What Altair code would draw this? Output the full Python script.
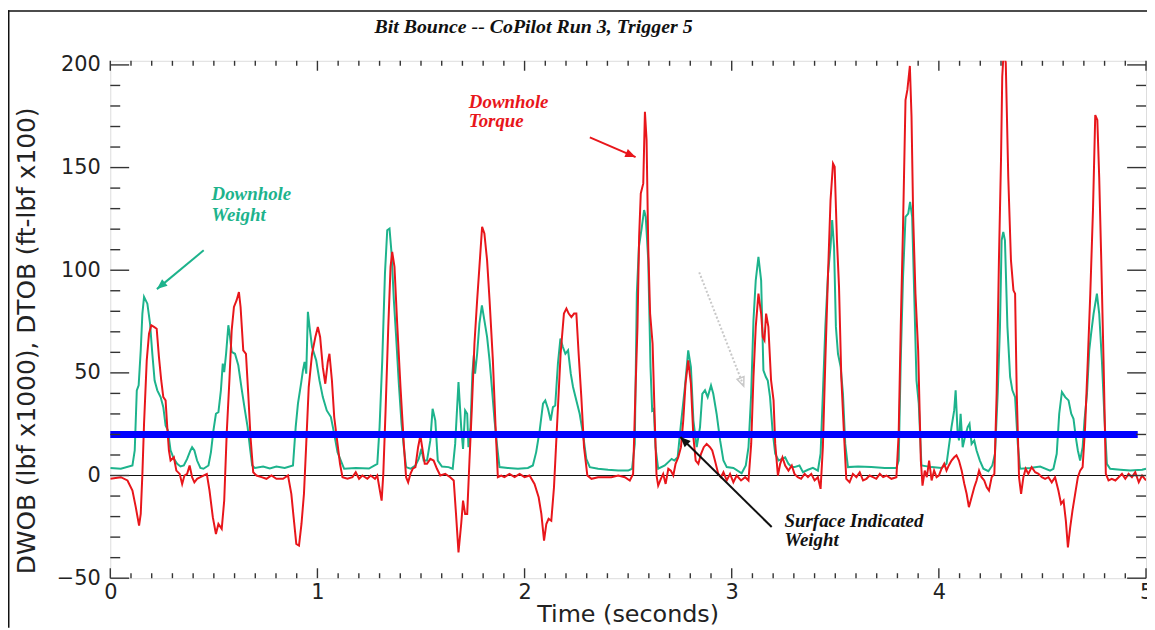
import math
import altair as alt
import pandas as pd

# ---------------- text ----------------
TITLE = "Bit Bounce -- CoPilot Run 3, Trigger 5"
Y_TITLE = "DWOB (lbf x1000), DTOB (ft-lbf x100)"
X_TITLE = "Time (seconds)"

X_LABELS = [0, 1, 2, 3, 4, 5]
Y_LABELS = [-50, 0, 50, 100, 150, 200]
X_MINOR = [round(i * 0.1, 1) for i in range(1, 50) if i % 10 != 0]
Y_MINOR = [v for v in range(-40, 201, 10) if v % 50 != 0]

X_DOMAIN = [0, 5]
Y_DOMAIN = [-50, 202]

# ---------------- series (time s, value) ----------------
WEIGHT = [
    (0, 3.7), (.051, 3.3), (.107, 4.9), (.118, 12.2), (.128, 41.5), (.137, 43.9), (.147, 61), (.155, 78.9),
    (.163, 87), (.179, 83.7), (.192, 74), (.203, 59.3), (.214, 46.3), (.227, 41.5), (.243, 38.2), (.256, 33.3),
    (.267, 24.4), (.278, 22), (.291, 12.2), (.307, 8.1), (.323, 5.7), (.339, 4.4), (.355, 4.9), (.371, 8.1),
    (.387, 12.2), (.395, 13.8), (.406, 12.2), (.419, 7.3), (.435, 3.7), (.450, 3.3), (.474, 4.9), (.486, 11.4),
    (.498, 22), (.510, 30.1), (.522, 30.9), (.534, 41.5), (.543, 54.5), (.550, 50.4), (.559, 59.3), (.570, 73.2),
    (.578, 67.5), (.586, 60.2), (.602, 59.3), (.618, 53.7), (.634, 42.3), (.650, 31.7), (.663, 23.6), (.674, 13.8),
    (.685, 4.9), (.698, 3.7), (.738, 4.4), (.770, 3.4), (.802, 4.4), (.842, 3.7), (.882, 4.9), (.895, 23.6),
    (.906, 35), (.922, 45.5), (.930, 51.2), (.938, 55.3), (.946, 49.6), (.954, 79.7), (.962, 72.4), (.974, 62.6),
    (.994, 56.1), (1.010, 46.3), (1.026, 38.2), (1.045, 31.7), (1.065, 28.5), (1.081, 20.3), (1.097, 11.4),
    (1.113, 7.3), (1.129, 3.3), (1.185, 3.7), (1.249, 3.4), (1.289, 5.7), (1.300, 23.6), (1.313, 56.1),
    (1.326, 98.4), (1.337, 119.5), (1.348, 120.3), (1.358, 108.1), (1.369, 85.4), (1.380, 67.5), (1.393, 44.7),
    (1.406, 25.2), (1.417, 13.8), (1.428, 4.1), (1.449, 3.3), (1.473, 4.9), (1.489, 8.1), (1.502, 13),
    (1.513, 7.3), (1.529, 7.3), (1.545, 17.1), (1.556, 32.5), (1.569, 26.8), (1.581, 7.3), (1.601, 4.4),
    (1.633, 4.1), (1.653, 3.3), (1.665, 15.4), (1.681, 45.5), (1.694, 23.6), (1.703, 13), (1.713, 31.7),
    (1.723, 30.1), (1.729, 13.8), (1.739, 23.6), (1.748, 49.6), (1.755, 58.5), (1.761, 49.6), (1.771, 59.3),
    (1.782, 74), (1.794, 82.9), (1.806, 75.6), (1.819, 67.5), (1.831, 56.1), (1.842, 43.1), (1.855, 26.8),
    (1.868, 13.8), (1.879, 4.1), (1.919, 3.7), (1.968, 3.3), (2.016, 3.7), (2.040, 4.9), (2.056, 11.4),
    (2.073, 22), (2.089, 35), (2.100, 36.6), (2.113, 32.5), (2.126, 26.8), (2.137, 33.3), (2.148, 34.1),
    (2.161, 54.5), (2.173, 66.7), (2.185, 62.6), (2.197, 59.3), (2.210, 61), (2.223, 49.6), (2.234, 43.1),
    (2.250, 36.6), (2.266, 30.1), (2.282, 20.3), (2.298, 8.1), (2.315, 4.1), (2.355, 3.3), (2.403, 2.8),
    (2.452, 2.4), (2.500, 2.4), (2.519, 3.3), (2.532, 15.4), (2.542, 88.6), (2.552, 111.4), (2.565, 120.3),
    (2.577, 129.3), (2.585, 126), (2.597, 104.9), (2.608, 52.8), (2.616, 31.7), (2.624, 32.5), (2.632, 13.8),
    (2.645, 3.3), (2.677, 4.9), (2.710, 8.1), (2.723, 7.3), (2.739, 8.9), (2.755, 25.2), (2.774, 43.1),
    (2.790, 61), (2.803, 52.8), (2.815, 26.8), (2.831, 13.8), (2.847, 23.6), (2.858, 39.8), (2.871, 41.5),
    (2.884, 38.2), (2.900, 43.9), (2.911, 39.8), (2.927, 30.1), (2.944, 17.1), (2.960, 7.3), (2.976, 4.1),
    (3.008, 3.7), (3.048, 1.1), (3.068, 4.9), (3.081, 13.8), (3.094, 39.8), (3.105, 75.6), (3.116, 95.1),
    (3.129, 106.5), (3.142, 95.1), (3.153, 51.2), (3.165, 48), (3.174, 46.3), (3.185, 38.2), (3.197, 22),
    (3.210, 10.6), (3.226, 7.3), (3.242, 8.1), (3.258, 8.9), (3.274, 5.7), (3.290, 4.1), (3.303, 4.1),
    (3.327, 4.9), (3.344, 1.6), (3.368, 2.8), (3.392, 3.7), (3.416, 2.4), (3.429, 10.6), (3.440, 39.8),
    (3.452, 72.4), (3.465, 98.4), (3.477, 111.4), (3.485, 124.4), (3.494, 111.4), (3.503, 72.4), (3.513, 59.3),
    (3.526, 52.8), (3.537, 39.8), (3.548, 15.4), (3.561, 4.1), (3.610, 4.4), (3.674, 4.1), (3.739, 3.7),
    (3.795, 3.7), (3.806, 7.3), (3.816, 56.1), (3.827, 96.7), (3.839, 126), (3.852, 127.6), (3.861, 133.3),
    (3.871, 126), (3.881, 88.6), (3.892, 46.3), (3.903, 35), (3.916, 4.9), (3.965, 4.1), (4.013, 3.7),
    (4.037, 5.7), (4.048, 13.8), (4.061, 23.6), (4.074, 31.7), (4.081, 41.5), (4.090, 22), (4.097, 17.1),
    (4.105, 30.1), (4.115, 13.8), (4.126, 18.7), (4.139, 23.6), (4.148, 25.2), (4.158, 15.4), (4.171, 17.1),
    (4.182, 12.2), (4.198, 7.3), (4.215, 3.3), (4.239, 2.1), (4.258, 4.9), (4.271, 10.6), (4.284, 39.8),
    (4.295, 72.4), (4.303, 114.6), (4.311, 118.7), (4.319, 114.6), (4.331, 72.4), (4.344, 48), (4.355, 41.5),
    (4.368, 38.2), (4.381, 15.4), (4.392, 3.3), (4.440, 3.7), (4.489, 4.4), (4.537, 2.4), (4.553, 3.3),
    (4.569, 10.6), (4.581, 30.1), (4.594, 40.7), (4.610, 38.2), (4.626, 36.6), (4.639, 30.1), (4.650, 27.6),
    (4.661, 18.7), (4.671, 12.2), (4.682, 7.3), (4.694, 13.8), (4.703, 26.8), (4.715, 39.8), (4.726, 61),
    (4.735, 69.1), (4.747, 78.9), (4.763, 88.6), (4.774, 78.9), (4.787, 56.1), (4.800, 26.8), (4.811, 5.7),
    (4.827, 3.3), (4.876, 2.8), (4.924, 2.4), (4.981, 2.8), (5.0, 3.3),
]

TORQUE = [
    (0, -1.6), (.051, -0.8), (.083, -2.4), (.107, -7.3), (.123, -15.4), (.139, -24.4), (.147, -18.7), (.155, 0.8),
    (.163, 25.2), (.176, 56.1), (.187, 69.1), (.198, 73.2), (.211, 72.4), (.224, 71.5), (.235, 57.7), (.246, 46.3),
    (.256, 38.2), (.267, 36.6), (.275, 23.6), (.283, 12.2), (.291, 7.3), (.307, 8.9), (.319, 2.4), (.335, 0.8),
    (.347, -4.1), (.358, 0), (.371, 0.8), (.383, 4.9), (.395, -0.8), (.406, -3.3), (.419, -1.6), (.435, -0.8),
    (.450, 0), (.466, 0.8), (.479, -7.3), (.495, -20.3), (.510, -28.5), (.522, -23.6), (.538, -26), (.550, -12.2),
    (.562, 20.3), (.575, 46.3), (.586, 70.7), (.597, 82.1), (.610, 85.4), (.621, 89.4), (.629, 82.1), (.642, 61),
    (.655, 59.3), (.666, 39.8), (.677, 18.7), (.690, 1.6), (.706, 0), (.730, -0.8), (.754, -1.6), (.778, 0),
    (.802, -1.6), (.834, -1.6), (.858, 0), (.874, -8.9), (.885, -20.3), (.898, -33.3), (.911, -34.1), (.923, -23.6),
    (.935, -8.9), (.946, 15.4), (.958, 43.1), (.974, 59.3), (.990, 67.5), (1.002, 72.4), (1.013, 67.5),
    (1.026, 52.8), (1.038, 44.7), (1.050, 55.3), (1.058, 59.3), (1.070, 46.3), (1.081, 28.5), (1.097, 15.4),
    (1.109, 5.7), (1.121, -0.8), (1.145, -1.6), (1.169, -0.8), (1.185, 1.6), (1.201, -1.6), (1.217, 0),
    (1.241, -1.6), (1.257, 0), (1.278, -1.6), (1.289, 0), (1.300, -6.5), (1.310, -12.2), (1.318, 0.8),
    (1.329, 31.7), (1.342, 72.4), (1.353, 101.6), (1.361, 108.9), (1.372, 101.6), (1.385, 74), (1.401, 43.1),
    (1.417, 15.4), (1.428, -0.8), (1.438, -3.3), (1.449, 0.8), (1.460, 3.3), (1.473, 4.1), (1.486, 13.8),
    (1.497, 19.5), (1.508, 12.2), (1.518, 5.7), (1.529, 5.7), (1.545, 8.1), (1.561, 7.3), (1.577, 3.3),
    (1.593, 0), (1.617, 0.8), (1.641, -0.8), (1.658, -2.4), (1.669, -18.7), (1.681, -37.4), (1.694, -23.6),
    (1.703, -12.2), (1.713, -18.7), (1.723, -18.7), (1.734, 7.3), (1.745, 31.7), (1.758, 64.2), (1.771, 85.4),
    (1.782, 101.6), (1.795, 121.1), (1.806, 117.9), (1.819, 104.9), (1.831, 85.4), (1.847, 56.1), (1.860, 23.6),
    (1.871, -0.8), (1.887, 0), (1.903, -0.8), (1.927, 0.8), (1.952, -0.8), (1.976, 0.8), (2.000, -0.8),
    (2.024, 0), (2.048, -4.1), (2.068, -10.6), (2.081, -18.7), (2.094, -31.7), (2.105, -23.6), (2.116, -21.1),
    (2.129, -22), (2.142, -5.7), (2.158, 26.8), (2.174, 59.3), (2.190, 78.9), (2.202, 81.3), (2.213, 78.9),
    (2.226, 77.2), (2.239, 78.9), (2.250, 78.9), (2.261, 59.3), (2.274, 38.2), (2.287, 13.8), (2.303, 0),
    (2.323, -1.6), (2.355, -0.8), (2.387, -0.8), (2.419, -0.8), (2.452, 0), (2.484, -0.8), (2.508, -2.4),
    (2.524, 0.8), (2.535, 39.8), (2.545, 72.4), (2.553, 116.3), (2.561, 137.4), (2.573, 142.3), (2.581, 177.2),
    (2.589, 163.4), (2.597, 111.4), (2.606, 78.9), (2.618, 64.2), (2.629, 25.2), (2.637, 0), (2.645, -4.9),
    (2.658, -1.6), (2.669, 0.8), (2.681, -4.1), (2.694, 3.3), (2.706, 2.4), (2.718, 0), (2.729, 5.7),
    (2.742, 8.9), (2.755, 13.8), (2.766, 26.8), (2.777, 44.7), (2.790, 56.1), (2.803, 44.7), (2.815, 18.7),
    (2.826, 7.3), (2.839, 5.7), (2.852, 10.6), (2.865, 13.8), (2.879, 15.4), (2.895, 13.8), (2.906, 12.2),
    (2.919, 7.3), (2.935, 0.8), (2.948, -0.8), (2.960, 1.6), (2.976, -2.4), (2.992, 0.8), (3.008, -3.3),
    (3.024, 0), (3.045, -2.4), (3.065, -0.8), (3.081, -2.4), (3.094, 15.4), (3.105, 48), (3.116, 72.4),
    (3.129, 88.6), (3.142, 78.9), (3.150, 67.5), (3.158, 65.9), (3.166, 78.9), (3.177, 72.4), (3.190, 46.3),
    (3.202, 36.6), (3.210, 15.4), (3.223, 0), (3.234, 5.7), (3.245, 8.9), (3.258, 4.9), (3.274, 2.4),
    (3.290, 4.9), (3.303, 0.8), (3.319, -0.8), (3.335, -1.6), (3.352, 0.8), (3.368, -0.8), (3.384, 0.8),
    (3.400, -2.4), (3.416, -0.8), (3.429, -6.5), (3.440, 13.8), (3.452, 56.1), (3.465, 98.4), (3.477, 134.1),
    (3.489, 152), (3.497, 150.4), (3.508, 114.6), (3.518, 91.9), (3.529, 48), (3.542, 20.3), (3.553, -1.6),
    (3.569, -3.3), (3.585, 0.8), (3.602, -0.8), (3.618, 1.6), (3.634, -2.4), (3.650, -1.6), (3.666, 0),
    (3.682, -0.8), (3.698, -1.6), (3.715, 0.8), (3.731, -0.8), (3.747, 0), (3.771, -1.6), (3.795, -0.8),
    (3.806, 20.3), (3.816, 72.4), (3.827, 121.1), (3.839, 182.9), (3.848, 187.8), (3.860, 199.5), (3.868, 174.8),
    (3.876, 126), (3.887, 88.6), (3.900, 61), (3.913, 7.3), (3.921, -4.9), (3.932, 2.4), (3.942, -0.8),
    (3.953, 7.3), (3.965, -2.4), (3.977, 2.4), (3.989, -0.8), (4.000, 0), (4.013, 3.3), (4.026, 5.7),
    (4.037, 2.4), (4.048, 4.9), (4.061, 7.3), (4.074, 8.9), (4.085, 9.8), (4.097, 7.3), (4.110, 2.4),
    (4.123, -4.1), (4.134, -8.9), (4.145, -15.4), (4.158, -10.6), (4.171, -5.7), (4.182, -2.4), (4.194, 2.4),
    (4.206, -0.8), (4.219, -2.4), (4.231, -5.7), (4.242, -7.3), (4.255, -0.8), (4.268, 0.8), (4.279, 39.8),
    (4.290, 104.9), (4.300, 153.7), (4.306, 194.3), (4.313, 207), (4.323, 201), (4.335, 145.5), (4.348, 104.9),
    (4.360, 90.2), (4.368, 88.6), (4.376, 39.8), (4.387, -0.8), (4.397, -8.9), (4.408, -0.8), (4.419, 3.3),
    (4.432, 0.8), (4.448, 4.1), (4.465, 1.6), (4.481, 0.8), (4.497, -0.8), (4.513, -1.6), (4.529, -0.8),
    (4.545, -3.3), (4.561, -0.8), (4.577, -7.3), (4.590, -13.8), (4.602, -12.2), (4.613, -22), (4.623, -35),
    (4.634, -25.2), (4.645, -17.1), (4.658, -8.9), (4.671, -0.8), (4.682, 2.4), (4.694, 4.1), (4.706, 23.6),
    (4.719, 56.1), (4.731, 88.6), (4.744, 129.3), (4.755, 175.6), (4.765, 173.2), (4.774, 145.5), (4.784, 104.9),
    (4.795, 56.1), (4.806, 0.8), (4.819, -2.4), (4.835, -1.6), (4.852, -2.4), (4.868, -0.8), (4.884, 0.8),
    (4.900, -1.6), (4.916, 0.8), (4.932, -0.8), (4.948, 1.6), (4.965, -3.3), (4.981, 0), (5.0, -2.4),
]

# surface indicated weight (constant)
SURFACE_START = [0.0]
SURFACE_END = [4.96]
SURFACE_LEVEL = [20]

# annotations: text, time, value, colour
NOTE_TEXT = ["Downhole", "Weight", "Downhole", "Torque", "Surface Indicated", "Weight"]
NOTE_T = [0.489, 0.489, 1.731, 1.731, 3.255, 3.255]
NOTE_V = [137.0, 127.0, 182.0, 172.5, -22.2, -31.4]
GREEN = "#1db38c"
RED = "#e8161b"
NOTE_C = [GREEN, GREEN, RED, RED, "#111111", "#111111"]

# arrows: tail (t0, v0) -> head (t1, v1)
ARROW_T0 = [0.451, 2.315, 3.193]
ARROW_V0 = [109.7, 164.7, -25.1]
ARROW_T1 = [0.225, 2.536, 2.752]
ARROW_V1 = [90.8, 155.1, 18.8]
ARROW_C = [GREEN, RED, "#111111"]
GREY_T0, GREY_V0, GREY_T1, GREY_V1 = [2.843], [99.0], [3.058], [43.5]

# ---------------- layout ----------------
W, H = 1043, 521
PX_T = W / (X_DOMAIN[1] - X_DOMAIN[0])
PX_V = H / (Y_DOMAIN[1] - Y_DOMAIN[0])


def head_angle(t0, v0, t1, v1):
    dx = (t1 - t0) * PX_T
    dy = -(v1 - v0) * PX_V
    return math.degrees(math.atan2(dx, -dy)) % 360


xs = alt.Scale(domain=X_DOMAIN, nice=False, zero=False)
ys = alt.Scale(domain=Y_DOMAIN, nice=False, zero=False)

axis_x = alt.Axis(values=X_LABELS, ticks=False, domain=False, grid=False, title=None,
                  labelFont="DejaVu Sans", labelFontSize=21, labelColor="#222", labelPadding=3,
                  format="d", labelFlush=False, labelOverlap=False)
axis_y = alt.Axis(values=Y_LABELS, ticks=False, domain=False, grid=False, title=None,
                  labelFont="DejaVu Sans", labelFontSize=21, labelColor="#222", labelPadding=10,
                  format="d", labelOverlap=False)

df_w = pd.DataFrame(WEIGHT, columns=["t", "v"])
df_r = pd.DataFrame(TORQUE, columns=["t", "v"])

X = lambda f: alt.X(f, scale=xs, axis=axis_x)
Y = lambda f: alt.Y(f, scale=ys, axis=axis_y)

zero = alt.Chart(pd.DataFrame({"v": [0]})).mark_rule(color="#111", strokeWidth=1.2).encode(
    y=Y("v:Q"), x=alt.value(0), x2=alt.value(W))

green = alt.Chart(df_w).mark_line(color=GREEN, strokeWidth=2, clip=True).encode(x=X("t:Q"), y=Y("v:Q"))
red = alt.Chart(df_r).mark_line(color=RED, strokeWidth=2, clip=True).encode(x=X("t:Q"), y=Y("v:Q"))

surface = alt.Chart(pd.DataFrame({"t": SURFACE_START, "t1": SURFACE_END, "v": SURFACE_LEVEL})).mark_rule(
    color="#0000ff", strokeWidth=7, strokeCap="butt").encode(x=X("t:Q"), x2="t1:Q", y=Y("v:Q"))


def yticks(vals, L):
    d = pd.DataFrame({"v": vals})
    a = alt.Chart(d).mark_rule(color="#333", strokeWidth=1.4).encode(y=Y("v:Q"), x=alt.value(0), x2=alt.value(L))
    b = alt.Chart(d).mark_rule(color="#333", strokeWidth=1.4).encode(y=Y("v:Q"), x=alt.value(W), x2=alt.value(W - L))
    return [a, b]


def xticks(vals, L):
    d = pd.DataFrame({"t": vals})
    a = alt.Chart(d).mark_rule(color="#333", strokeWidth=1.4).encode(x=X("t:Q"), y=alt.value(H), y2=alt.value(H - L))
    b = alt.Chart(d).mark_rule(color="#333", strokeWidth=1.4).encode(x=X("t:Q"), y=alt.value(0), y2=alt.value(L))
    return [a, b]


ticks = yticks(Y_MINOR, 10) + yticks(Y_LABELS, 19) + xticks(X_MINOR, 5) + xticks(X_LABELS, 10)

df_arr = pd.DataFrame({"t": ARROW_T0, "v": ARROW_V0, "t1": ARROW_T1, "v1": ARROW_V1, "c": ARROW_C})
df_arr["ang"] = [head_angle(*r) for r in zip(ARROW_T0, ARROW_V0, ARROW_T1, ARROW_V1)]
arrows = alt.Chart(df_arr).mark_rule(strokeWidth=2).encode(
    x=X("t:Q"), y=Y("v:Q"), x2="t1:Q", y2="v1:Q", color=alt.Color("c:N", scale=None))
HEAD = "M0,0 L-0.5,1.2 L0.5,1.2 Z"
heads = alt.Chart(df_arr).mark_point(shape=HEAD, filled=True, size=300, opacity=1, strokeWidth=0).encode(
    x=X("t1:Q"), y=Y("v1:Q"), color=alt.Color("c:N", scale=None), angle=alt.Angle("ang:Q", scale=None))

df_grey = pd.DataFrame({"t": GREY_T0, "v": GREY_V0, "t1": GREY_T1, "v1": GREY_V1})
df_grey["ang"] = [head_angle(*r) for r in zip(GREY_T0, GREY_V0, GREY_T1, GREY_V1)]
grey = alt.Chart(df_grey).mark_rule(strokeWidth=2, color="#c8c8c8", strokeDash=[2, 2]).encode(
    x=X("t:Q"), y=Y("v:Q"), x2="t1:Q", y2="v1:Q")
grey_head = alt.Chart(df_grey).mark_point(shape=HEAD, filled=False, size=220, opacity=1, strokeWidth=1.5,
                                          color="#c8c8c8").encode(
    x=X("t1:Q"), y=Y("v1:Q"), angle=alt.Angle("ang:Q", scale=None))

notes = alt.Chart(pd.DataFrame({"text": NOTE_TEXT, "t": NOTE_T, "v": NOTE_V, "c": NOTE_C})).mark_text(
    font="Liberation Serif", fontSize=19, fontWeight="bold", fontStyle="italic", align="left",
    baseline="middle").encode(x=X("t:Q"), y=Y("v:Q"), text="text:N", color=alt.Color("c:N", scale=None))

title = alt.Chart(pd.DataFrame({"text": [TITLE]})).mark_text(
    font="Liberation Serif", fontSize=20, fontWeight="bold", fontStyle="italic", align="left",
    baseline="alphabetic", color="#111").encode(x=alt.value(266), y=alt.value(-28), text="text:N")

ytitle = alt.Chart(pd.DataFrame({"text": [Y_TITLE]})).mark_text(
    font="DejaVu Sans", fontSize=25, angle=270, align="center", baseline="middle", color="#222").encode(
    x=alt.value(-84), y=alt.value(282), text="text:N")

xtitle = alt.Chart(pd.DataFrame({"text": [X_TITLE]})).mark_text(
    font="DejaVu Sans", fontSize=24, align="center", baseline="middle", color="#222").encode(
    x=alt.value(W / 2), y=alt.value(558), text="text:N")

frame_top = alt.Chart(pd.DataFrame({"text": [""]})).mark_rule(color="#111", strokeWidth=1.5).encode(
    x=alt.value(-103), x2=alt.value(W + 1), y=alt.value(-50.25))
frame_left = alt.Chart(pd.DataFrame({"text": [""]})).mark_rule(color="#111", strokeWidth=1.5).encode(
    x=alt.value(-102.25), y=alt.value(-51), y2=alt.value(H + 50))

chart = alt.layer(
    zero, green, red, surface, *ticks, grey, grey_head, arrows, heads, notes, title, ytitle, xtitle,
    frame_top, frame_left,
).properties(
    width=W, height=H,
    padding={"left": 103, "top": 51, "right": 1, "bottom": 50},
    autosize=alt.AutoSizeParams(type="none"),
).configure_view(stroke="#222", strokeWidth=1.5).configure(background="white")

chart.save("out.html", embed_options={"renderer": "svg", "actions": False})
